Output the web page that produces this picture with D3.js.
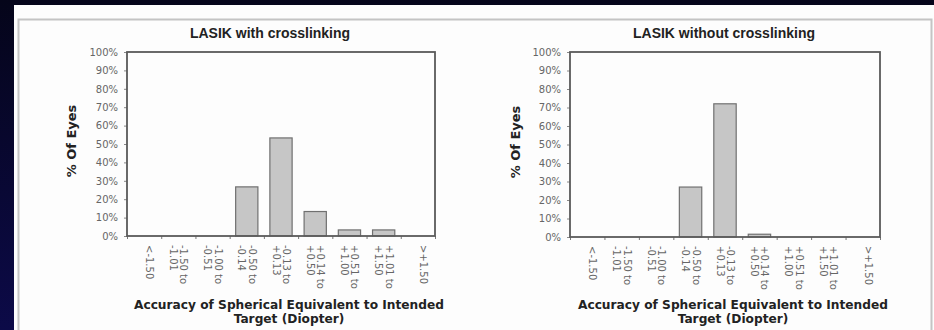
<!DOCTYPE html>
<html>
<head>
<meta charset="utf-8">
<script src="https://cdn.jsdelivr.net/npm/d3@7"></script>
<style>
  html, body { margin: 0; padding: 0; background: #07071f; }
  svg { display: block; }
</style>
</head>
<body>
<svg id="chart" width="934" height="330"></svg>
<script>
// Refraction outcome bins (diopters), each label split over two lines
const categories = [
  ["<-1.50"],
  ["-1.50 to", "-1.01"],
  ["-1.00 to", "-0.51"],
  ["-0.50 to", "-0.14"],
  ["-0.13 to", "+0.13"],
  ["+0.14 to", "+0.50"],
  ["+0.51 to", "+1.00"],
  ["+1.01 to", "+1.50"],
  [">+1.50"]
];

// Percent of eyes in each bin
const withCrosslinking = [0, 0, 0, 26.7, 53.3, 13.3, 3.3, 3.3, 0];
const withoutCrosslinking = [0, 0, 0, 27, 72, 1.5, 0, 0, 0];

const yTicks = [0, 10, 20, 30, 40, 50, 60, 70, 80, 90, 100];

const panelTitles = ["LASIK with crosslinking", "LASIK without crosslinking"];
const yTitle = "% Of Eyes";
const xTitle = ["Accuracy of Spherical Equivalent to Intended", "Target (Diopter)"];

const svg = d3.select("#chart");

// Slide background
const defs = svg.append("defs");
const grad = defs.append("linearGradient").attr("id", "bg")
  .attr("x1", 0).attr("y1", 0).attr("x2", 0).attr("y2", 1);
grad.append("stop").attr("offset", "0%").attr("stop-color", "#05051a");
grad.append("stop").attr("offset", "100%").attr("stop-color", "#0c0a48");
svg.append("rect").attr("width", 934).attr("height", 330).attr("fill", "url(#bg)");

// White figure sheet with its light frame
svg.append("rect").attr("x", 14).attr("y", 5).attr("width", 920).attr("height", 325).attr("fill", "#fdfdfd");
svg.append("path")
  .attr("d", "M18.5,332 V19.5 H931.5 V332")
  .attr("fill", "none").attr("stroke", "#c4c4c4").attr("stroke-width", 2);

function drawPanel(frame, title, values) {
  const g = svg.append("g");
  const x = d3.scaleBand().domain(d3.range(categories.length))
    .range([frame.left, frame.right]).paddingInner(0.35).paddingOuter(0.175);
  const xEdge = d3.scaleLinear().domain([0, categories.length]).range([frame.left, frame.right]);
  const y = d3.scaleLinear().domain([0, 100]).range([frame.bottom, frame.top]);

  // Bars
  g.selectAll("rect.bar").data(values).join("rect")
    .attr("class", "bar")
    .attr("x", (d, i) => x(i))
    .attr("width", x.bandwidth())
    .attr("y", d => y(d))
    .attr("height", d => y(0) - y(d))
    .attr("fill", "#c6c6c6")
    .attr("stroke", "#707070")
    .attr("stroke-width", 1.2);

  // Y axis
  const yAxis = d3.axisLeft(y).tickValues(yTicks).tickFormat(d => d + "%").tickSize(3).tickPadding(6);
  const ya = g.append("g").attr("transform", `translate(${frame.left},0)`).call(yAxis);
  ya.select(".domain").remove();
  ya.selectAll(".tick line").attr("stroke", "#888");
  ya.selectAll(".tick text").attr("font-family", "DejaVu Sans, Verdana, sans-serif")
    .attr("font-size", 10).attr("fill", "#666");

  // X axis ticks at bin edges
  const xa = d3.axisBottom(xEdge).tickValues(d3.range(categories.length + 1)).tickSize(3).tickFormat("");
  const xg = g.append("g").attr("transform", `translate(0,${frame.bottom})`).call(xa);
  xg.select(".domain").remove();
  xg.selectAll(".tick line").attr("stroke", "#777");

  // Category labels, rotated to read downward
  const lab = g.selectAll("g.cat").data(categories).join("g")
    .attr("class", "cat")
    .attr("transform", (d, i) => `translate(${x(i) + x.bandwidth() / 2 + 2},${frame.bottom + 9}) rotate(90)`);
  lab.each(function(lines) {
    const t = d3.select(this).append("text")
      .attr("font-family", "DejaVu Sans, Verdana, sans-serif")
      .attr("font-size", 10).attr("fill", "#666");
    lines.forEach((ln, k) => {
      t.append("tspan").attr("x", 0).attr("dy", k === 0 ? 0 : 10.5).text(ln);
    });
  });

  // Plot frame
  g.append("rect")
    .attr("x", frame.left).attr("y", frame.top)
    .attr("width", frame.right - frame.left).attr("height", frame.bottom - frame.top)
    .attr("fill", "none").attr("stroke", "#5a5a5a").attr("stroke-width", 1.8);

  // Titles
  g.append("text")
    .attr("x", frame.titleX).attr("y", 38)
    .attr("text-anchor", "middle")
    .attr("font-family", "Liberation Sans, Arial, sans-serif")
    .attr("font-weight", "bold").attr("font-size", 14).attr("fill", "#222")
    .text(title);

  g.append("text")
    .attr("transform", `translate(${frame.yTitleX},${frame.yTitleY}) rotate(-90)`)
    .attr("text-anchor", "middle")
    .attr("font-family", "DejaVu Sans, Verdana, sans-serif")
    .attr("font-weight", "bold").attr("font-size", 13).attr("fill", "#222")
    .text(yTitle);

  xTitle.forEach((ln, k) => {
    g.append("text")
      .attr("x", frame.xTitleX).attr("y", 309 + k * 14)
      .attr("text-anchor", "middle")
      .attr("font-family", "DejaVu Sans, Verdana, sans-serif")
      .attr("font-weight", "bold").attr("font-size", 12.2).attr("fill", "#222")
      .text(ln);
  });
}

drawPanel({ left: 127, right: 435, top: 52, bottom: 236, titleX: 270, yTitleX: 76, yTitleY: 141, xTitleX: 289 },
  panelTitles[0], withCrosslinking);
drawPanel({ left: 570, right: 880, top: 52, bottom: 237, titleX: 724, yTitleX: 520, yTitleY: 142, xTitleX: 733 },
  panelTitles[1], withoutCrosslinking);
</script>
</body>
</html>
